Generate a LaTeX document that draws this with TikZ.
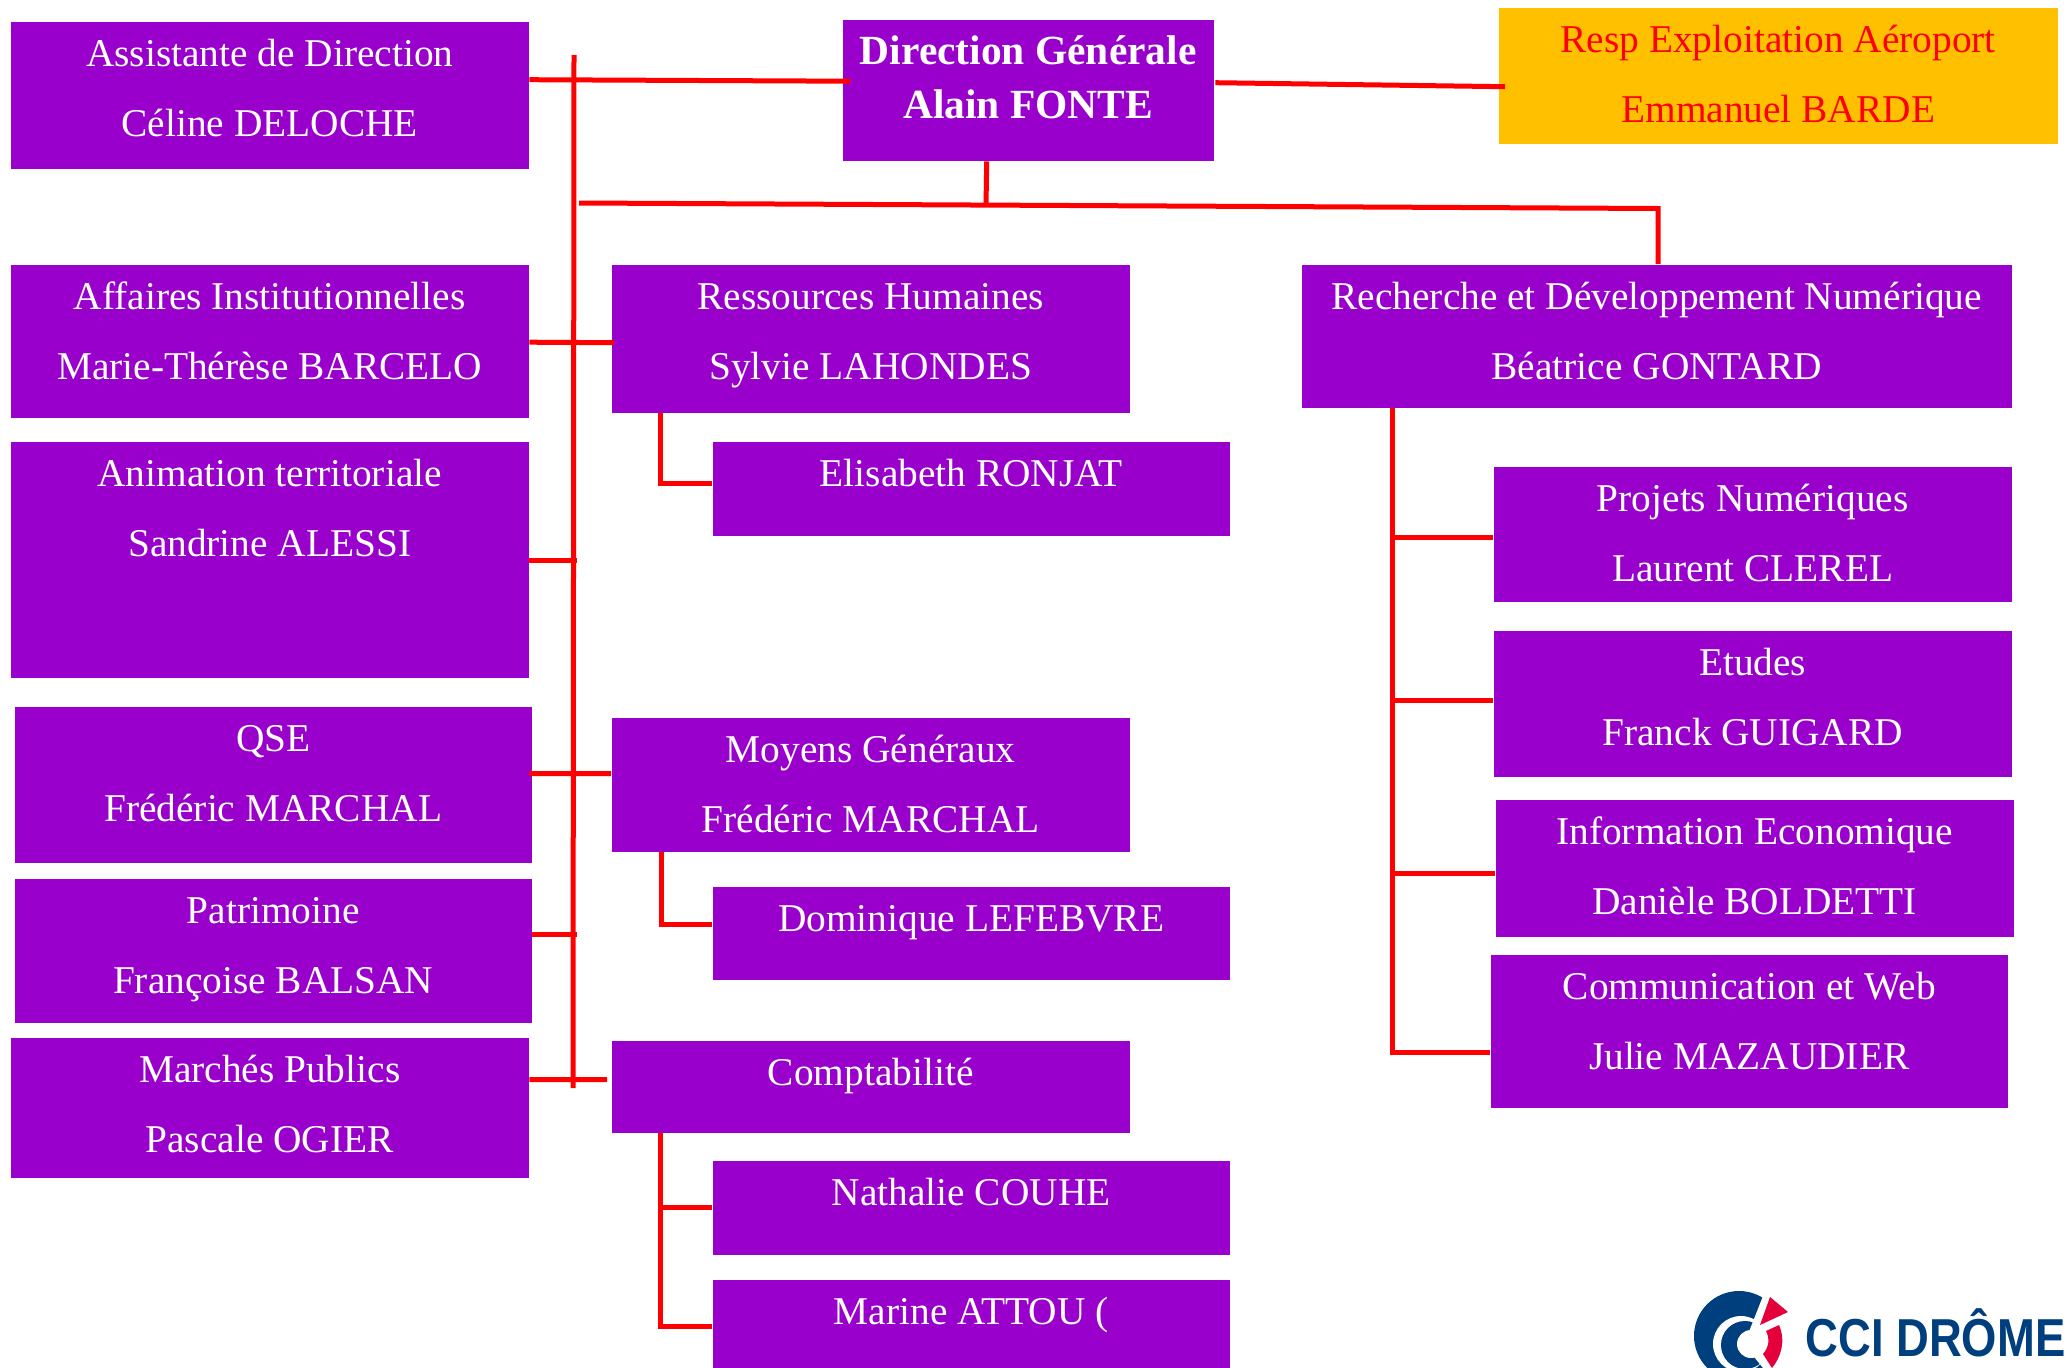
\documentclass[tikz,border=0pt]{standalone}
\usepackage{fontspec}
\setmainfont{Liberation Serif}
\newfontfamily\logofont{Liberation Sans}
\definecolor{orgpurple}{HTML}{9900CC}
\definecolor{orgorange}{HTML}{FFC000}
\definecolor{logoblue}{HTML}{003F7D}
\definecolor{logored}{HTML}{E4003A}
\tikzset{
  orgbox/.style 2 args={fill=orgpurple, text=white, anchor=north west, align=flush center, inner sep=0pt,
    font=\fontsize{11.2}{19.9}\selectfont, text width=#1cm, text height=0.445cm, text depth={#2cm-0.445cm}},
  link/.style={draw=red, line width=0.05cm}
}
\begin{document}
\begin{tikzpicture}
  \useasboundingbox (0.01,-0.01) rectangle (20.70,-13.69);
  % left column
  \node [orgbox={5.18}{1.47}] (assist) at (0.11,-0.22) {Assistante de Direction\\Céline DELOCHE};
  \node [orgbox={5.18}{1.53}] (affaires) at (0.11,-2.65) {Affaires Institutionnelles\\Marie-Thérèse BARCELO};
  \node [orgbox={5.18}{2.36}] (anim) at (0.11,-4.42) {Animation territoriale\\Sandrine ALESSI};
  \node [orgbox={5.17}{1.56}] (qse) at (0.15,-7.07) {QSE\\Frédéric MARCHAL};
  \node [orgbox={5.17}{1.44}] (patri) at (0.15,-8.79) {Patrimoine\\Françoise BALSAN};
  \node [orgbox={5.18}{1.40}] (marches) at (0.11,-10.38) {Marchés Publics\\Pascale OGIER};
  % top
  \node [orgbox={3.71}{1.41}, font=\fontsize{11.8}{15.4}\selectfont\bfseries] (dg) at (8.43,-0.20) {Direction Générale\\Alain FONTE};
  \node [orgbox={5.59}{1.36}, fill=orgorange, text=red] (resp) at (14.99,-0.08) {Resp Exploitation Aéroport\\Emmanuel BARDE};
  % middle column
  \node [orgbox={5.18}{1.48}] (rh) at (6.12,-2.65) {Ressources Humaines\\Sylvie LAHONDES};
  \node [orgbox={5.17}{0.94}] (ronjat) at (7.13,-4.42) {Elisabeth RONJAT};
  \node [orgbox={5.18}{1.34}] (moyens) at (6.12,-7.18) {Moyens Généraux\\Frédéric MARCHAL};
  \node [orgbox={5.17}{0.93}] (lefebvre) at (7.13,-8.87) {Dominique LEFEBVRE};
  \node [orgbox={5.18}{0.92}] (compta) at (6.12,-10.41) {Comptabilité};
  \node [orgbox={5.17}{0.94}] (couhe) at (7.13,-11.61) {Nathalie COUHE};
  \node [orgbox={5.17}{0.88}] (attou) at (7.13,-12.80) {Marine ATTOU (};
  % right column
  \node [orgbox={7.10}{1.43}] (rd) at (13.02,-2.65) {Recherche et Développement Numérique\\Béatrice GONTARD};
  \node [orgbox={5.18}{1.35}] (projets) at (14.94,-4.67) {Projets Numériques\\Laurent CLEREL};
  \node [orgbox={5.18}{1.46}] (etudes) at (14.94,-6.31) {Etudes\\Franck GUIGARD};
  \node [orgbox={5.18}{1.37}] (info) at (14.96,-8.00) {Information Economique\\Danièle BOLDETTI};
  \node [orgbox={5.17}{1.53}] (comm) at (14.91,-9.55) {Communication et Web\\Julie MAZAUDIER};
  % connectors
  \coordinate (bustop) at (5.75,-0.56);
  \coordinate (busbottom) at (5.74,-10.89);
  \coordinate (hstart) at (5.80,-2.04);
  \coordinate (hdrop) at (9.87,-2.07);
  \coordinate (hbend) at (16.59,-2.095);
  \coordinate (comptastem) at ([xshift=-2.10cm]compta.south);
  \coordinate (rdstem) at ([xshift=-2.64cm]rd.south);
  \draw [link] (bustop) -- (busbottom);
  \draw [link] ([yshift=0.155cm]assist.east) -- ([xshift=0.08cm,yshift=0.09cm]dg.west);
  \draw [link] ([xshift=0.01cm,yshift=0.075cm]dg.east) -- ([xshift=0.07cm,yshift=-0.11cm]resp.west);
  \draw [link] ([xshift=-0.415cm]dg.south) -- (hdrop);
  \draw [link] (hstart) -- (hbend) -- (rd.north -| hbend);
  \draw [link] ([yshift=-0.01cm]affaires.east) -- ([xshift=0.03cm,yshift=-0.04cm]rh.west);
  \draw [link] ([yshift=-0.01cm]anim.east) -- ([xshift=0.03cm,yshift=-0.01cm]anim.east -| bustop);
  \draw [link] ([xshift=-0.03cm,yshift=0.11cm]qse.east) -- ([yshift=0.11cm]moyens.west);
  \draw [link] ([yshift=0.16cm]patri.east) -- ([xshift=0.03cm,yshift=0.16cm]patri.east -| bustop);
  \draw [link] ([yshift=0.28cm]marches.east) -- ([xshift=-0.04cm,yshift=0.07cm]compta.west);
  \draw [link] ([xshift=-2.10cm]rh.south) |- ([yshift=0.05cm]ronjat.west);
  \draw [link] ([xshift=-2.09cm]moyens.south) |- ([yshift=0.085cm]lefebvre.west);
  \draw [link] (comptastem) |- ([yshift=-0.03cm]attou.west);
  \draw [link] (couhe.west) -- (couhe.west -| comptastem);
  \draw [link] (rdstem) |- ([yshift=-0.21cm]comm.west);
  \draw [link] ([yshift=-0.035cm]projets.west) -- ([yshift=-0.035cm]projets.west -| rdstem);
  \draw [link] ([yshift=0.03cm]etudes.west) -- ([yshift=0.03cm]etudes.west -| rdstem);
  \draw [link] ([yshift=-0.055cm]info.west) -- ([yshift=-0.055cm]info.west -| rdstem);
  % logo
  \begin{scope}[shift={(0.02,0)}]
    \clip (16.8,-12.8) rectangle (20.70,-13.69);
    \fill [logoblue] (17.38,-13.37) circle (0.45);
    \fill [white] (17.40,-13.45) circle (0.28);
    \fill [logoblue] (17.44,-13.46) circle (0.24);
    \fill [white] (17.50,-13.45) circle (0.14);
    \fill [white] (17.49,-13.30) -- (17.64,-12.92) -- (18.00,-12.92) -- (18.00,-13.69) -- (17.62,-13.69) -- (17.45,-13.48) -- cycle;
    \fill [logored] (17.69,-12.98) -- (17.87,-13.13) -- (17.59,-13.26) -- cycle;
    \fill [logored] (17.65,-13.32) -- (17.78,-13.26) .. controls (17.85,-13.42) and (17.80,-13.58) .. (17.71,-13.69) -- (17.62,-13.55) .. controls (17.68,-13.48) and (17.69,-13.40) .. cycle;
  \end{scope}
  \node [anchor=base west, inner sep=0pt, xscale=0.85, text=logoblue, font=\logofont\bfseries\fontsize{15.2}{16}\selectfont] (logotext) at (18.06,-13.57) {CCI DRÔME};
\end{tikzpicture}
\end{document}
